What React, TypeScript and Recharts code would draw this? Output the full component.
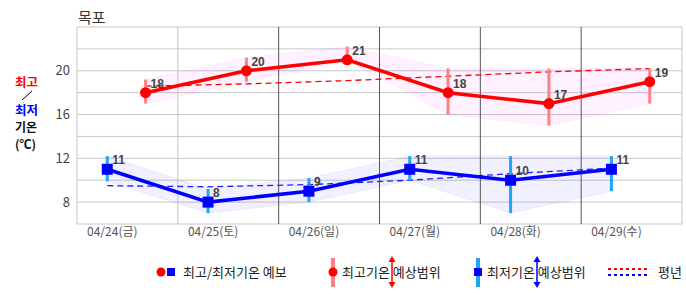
import React from "react";
import {
  ComposedChart,
  Line,
  Area,
  XAxis,
  YAxis,
  CartesianGrid,
  ReferenceLine,
  ErrorBar,
} from "recharts";

// 목포 주간 기온 예보: 최고/최저 기온, 예상범위, 평년값
const DAYS = ["04/24(금)", "04/25(토)", "04/26(일)", "04/27(월)", "04/28(화)", "04/29(수)"];
const MAX_TEMP = [18, 20, 21, 18, 17, 19];
const MAX_LOW = [17, 19, 21, 16, 15, 17];
const MAX_HIGH = [19.2, 21.2, 22.2, 20.2, 20.2, 20.2];
const MIN_TEMP = [11, 8, 9, 11, 10, 11];
const MIN_LOW = [9.9, 7, 8, 10, 7, 9];
const MIN_HIGH = [12.2, 9.2, 10.2, 12.2, 12.2, 12.2];
const MAX_NORMAL = [18.6, 18.8, 19.1, 19.5, 19.9, 20.2];
const MIN_NORMAL = [9.5, 9.4, 9.6, 10.0, 10.6, 11.1];
const Y_TICKS = [6, 8, 10, 12, 14, 16, 18, 20, 22, 24];
const Y_LABELS = [8, 12, 16, 20];

// 하루 안에서 최저/최고 기온이 찍히는 위치 (일 단위 비율)
const MIN_AT = 0.3;
const MAX_AT = 0.68;
const LABEL_AT = 0.35;

const FONT = "'Noto Sans CJK KR', sans-serif";
const NUM_FONT = "'Liberation Sans', Arial, sans-serif";

const maxData = DAYS.map((_, i) => ({
  x: i + MAX_AT,
  t: MAX_TEMP[i],
  band: [MAX_LOW[i], MAX_HIGH[i]],
  err: [MAX_TEMP[i] - MAX_LOW[i], MAX_HIGH[i] - MAX_TEMP[i]],
  normal: MAX_NORMAL[i],
}));

const minData = DAYS.map((_, i) => ({
  x: i + MIN_AT,
  t: MIN_TEMP[i],
  band: [MIN_LOW[i], MIN_HIGH[i]],
  err: [MIN_TEMP[i] - MIN_LOW[i], MIN_HIGH[i] - MIN_TEMP[i]],
  normal: MIN_NORMAL[i],
}));

const DAY_LINES = [0, 1, 2, 3, 4, 5, 6];
const DAY_LINE_COLORS = ["#c4c4c4", "#c4c4c4", "#555", "#555", "#555", "#555", "#c4c4c4"];

function valueLabel(p: any) {
  return (
    <text
      key={`lbl-${p.index}-${p.x}`}
      x={p.x + 5}
      y={p.y - 5}
      fontSize={12}
      fontWeight={700}
      fill="#444"
      fontFamily={NUM_FONT}
    >
      {p.value}
    </text>
  );
}

function squareDot(p: any) {
  return (
    <rect key={`sq-${p.index}`} x={p.cx - 5.5} y={p.cy - 5.5} width={11} height={11} fill="#0000ff" />
  );
}

function VArrow({ x, color }: { x: number; color: string }) {
  return (
    <g>
      <line x1={x} y1={261} x2={x} y2={283} stroke={color} strokeWidth={1.5} />
      <path d={`M${x - 3.5} ${262} L${x} ${256} L${x + 3.5} ${262} Z`} fill={color} />
      <path d={`M${x - 3.5} ${282} L${x} ${288} L${x + 3.5} ${282} Z`} fill={color} />
    </g>
  );
}

function Overlay() {
  const txt = { fontFamily: FONT, dominantBaseline: "central" as const };
  return (
    <svg
      width={686}
      height={295}
      style={{ position: "absolute", left: 0, top: 0, pointerEvents: "none" }}
    >
      {/* 제목 */}
      <text x={78} y={16} fontSize={15} fill="#333" {...txt}>목포</text>

      {/* 왼쪽 축 제목 */}
      <text x={15} y={81} fontSize={12.5} fontWeight={700} fill="#ff0000" {...txt}>최고</text>
      <line x1={22} y1={100} x2={32} y2={91} stroke="#000" strokeWidth={1} />
      <text x={15} y={109} fontSize={12.5} fontWeight={700} fill="#0000ff" {...txt}>최저</text>
      <text x={15} y={126} fontSize={12} fontWeight={700} fill="#111" {...txt}>기온</text>
      <text x={15} y={143} fontSize={12} fontWeight={700} fill="#111" {...txt}>(℃)</text>

      {/* 범례 */}
      <circle cx={161} cy={272} r={4.5} fill="#ff0000" />
      <rect x={167} y={268} width={8} height={8} fill="#0000ff" />
      <text x={183} y={271} fontSize={13} fill="#222" {...txt}>최고/최저기온 예보</text>

      <rect x={331} y={258} width={4} height={29} fill="#ff8080" />
      <circle cx={333} cy={272} r={4.5} fill="#ff0000" />
      <text x={342} y={271} fontSize={13} fill="#222" {...txt}>최고기온 예상범위</text>
      <VArrow x={392} color="#ff0000" />

      <rect x={476} y={258} width={4} height={29} fill="#1ea5f5" />
      <rect x={474} y={268} width={8} height={8} fill="#0000ff" />
      <text x={487} y={271} fontSize={13} fill="#222" {...txt}>최저기온 예상범위</text>
      <VArrow x={537} color="#0000ff" />

      <line x1={608} y1={269} x2={647} y2={269} stroke="#ff0000" strokeWidth={2} strokeDasharray="3 3" />
      <line x1={608} y1={275} x2={647} y2={275} stroke="#0000ff" strokeWidth={2} strokeDasharray="3 3" />
      <text x={658} y={271} fontSize={13} fill="#222" {...txt}>평년</text>
    </svg>
  );
}

export default function App() {
  return (
    <div
      style={{
        position: "absolute",
        left: 0,
        top: 0,
        width: 686,
        height: 295,
        background: "#fff",
        fontFamily: FONT,
      }}
    >
      <ComposedChart
        width={686}
        height={295}
        margin={{ top: 27, right: 4, left: 0, bottom: 51 }}
      >
        <CartesianGrid horizontal vertical={false} stroke="#c8c8c8" />
        <XAxis
          type="number"
          dataKey="x"
          domain={[0, 6]}
          ticks={DAYS.map((_, i) => i + LABEL_AT)}
          tickFormatter={(v: number) => DAYS[Math.round(v - LABEL_AT)]}
          tickLine={false}
          axisLine={false}
          tickSize={0}
          tickMargin={3}
          height={20}
          tick={{ fontSize: 12, fill: "#555", fontFamily: FONT }}
          allowDataOverflow
        />
        <YAxis
          type="number"
          domain={[6, 24]}
          ticks={Y_TICKS}
          tickFormatter={(v: number) => (Y_LABELS.includes(v) ? String(v) : "")}
          tickLine={false}
          axisLine={false}
          tickSize={0}
          tickMargin={7}
          width={77}
          tick={{ fontSize: 13, fill: "#444", fontFamily: FONT }}
          allowDataOverflow
        />
        {DAY_LINES.map((d, i) => (
          <ReferenceLine key={`day-${d}`} x={d} stroke={DAY_LINE_COLORS[i]} strokeWidth={1} />
        ))}

        {/* 예상범위 음영 */}
        <Area
          data={maxData}
          dataKey="band"
          type="linear"
          fill="#ff00ff"
          fillOpacity={0.055}
          stroke="#ff00ff"
          strokeOpacity={0.06}
          isAnimationActive={false}
        />
        <Area
          data={minData}
          dataKey="band"
          type="linear"
          fill="#0000ff"
          fillOpacity={0.06}
          stroke="#0000ff"
          strokeOpacity={0.06}
          isAnimationActive={false}
        />

        {/* 평년 */}
        <Line
          data={maxData}
          dataKey="normal"
          type="linear"
          stroke="#ff0000"
          strokeWidth={1.3}
          strokeDasharray="6 4"
          dot={false}
          isAnimationActive={false}
        />
        <Line
          data={minData}
          dataKey="normal"
          type="linear"
          stroke="#2020ff"
          strokeWidth={1.3}
          strokeDasharray="6 4"
          dot={false}
          isAnimationActive={false}
        />

        {/* 최고/최저 예보 */}
        <Line
          data={maxData}
          dataKey="t"
          type="linear"
          stroke="#ff0000"
          strokeWidth={3.5}
          dot={{ r: 5.5, fill: "#ff0000", stroke: "none" }}
          label={valueLabel}
          isAnimationActive={false}
        >
          <ErrorBar dataKey="err" direction="y" width={0} stroke="#ff8080" strokeWidth={3} />
        </Line>
        <Line
          data={minData}
          dataKey="t"
          type="linear"
          stroke="#0000ff"
          strokeWidth={3.5}
          dot={squareDot}
          label={valueLabel}
          isAnimationActive={false}
        >
          <ErrorBar dataKey="err" direction="y" width={0} stroke="#1ea5f5" strokeWidth={3} />
        </Line>
      </ComposedChart>
      <Overlay />
    </div>
  );
}
